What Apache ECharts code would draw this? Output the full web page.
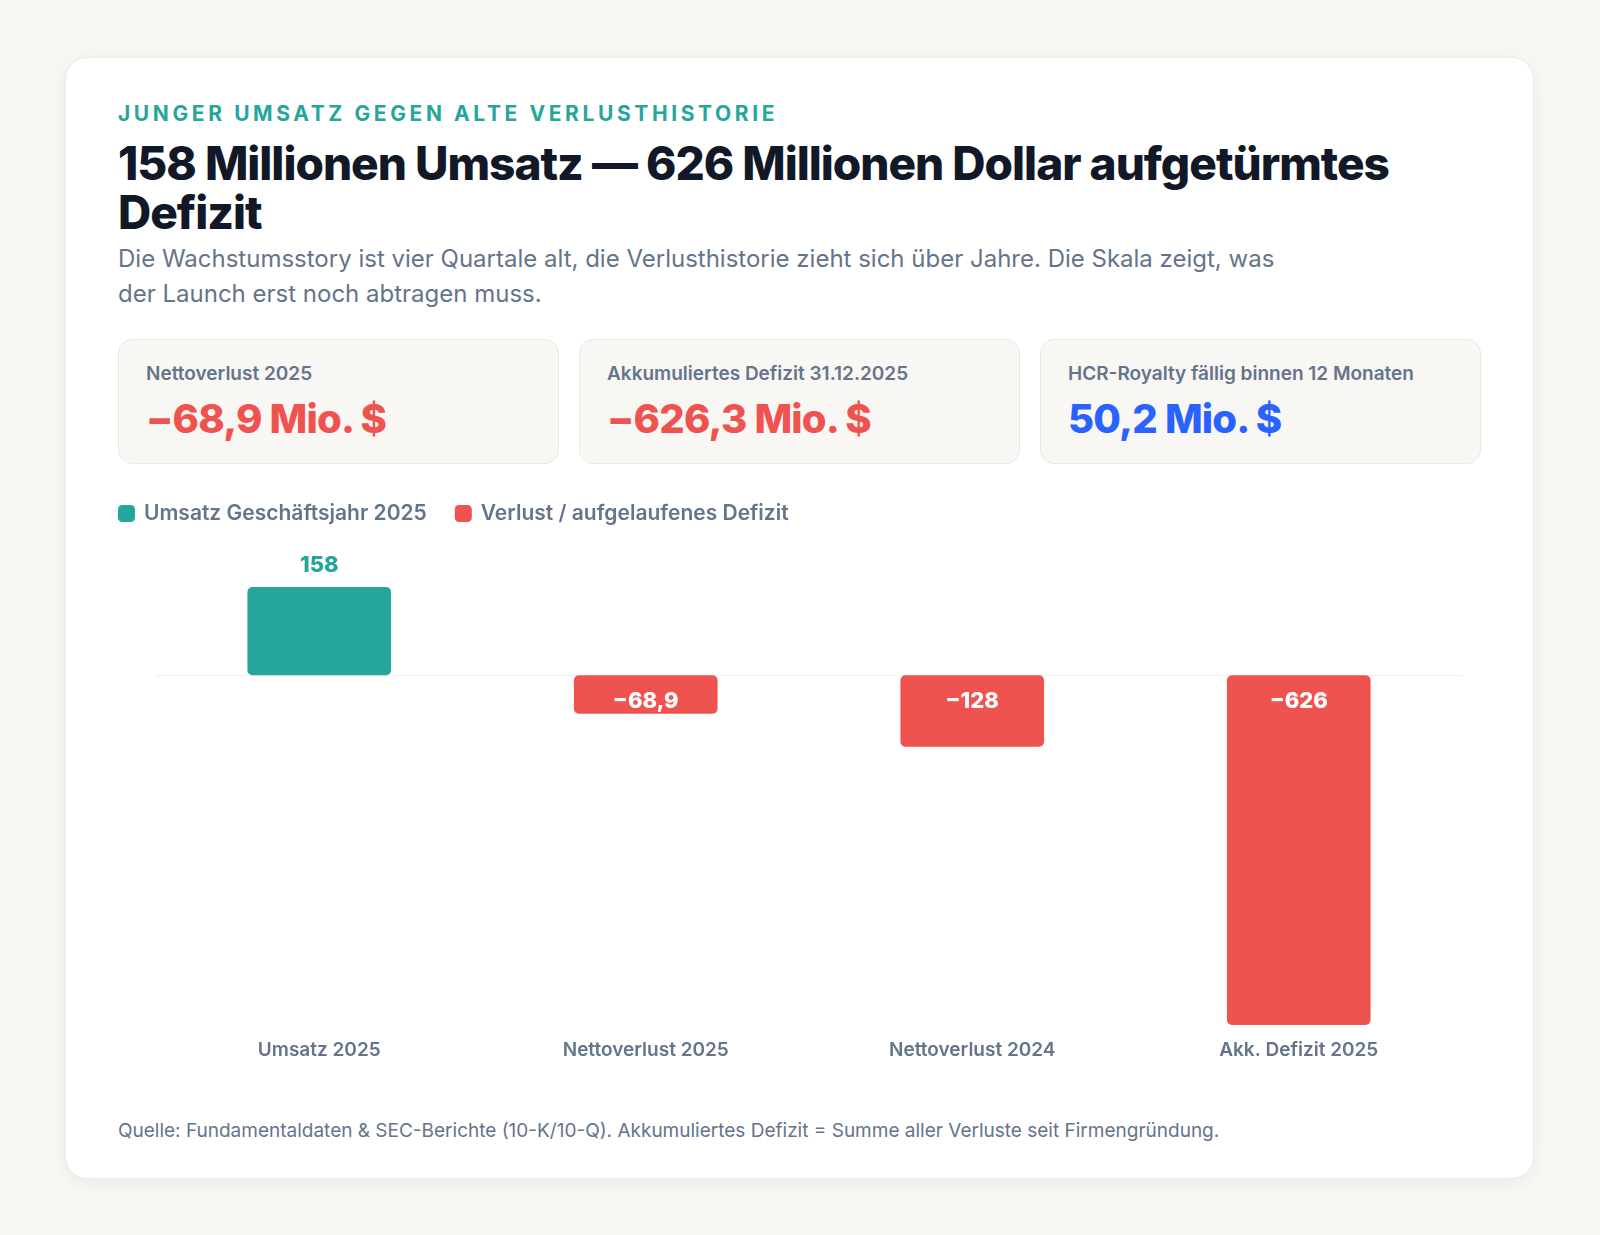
<!DOCTYPE html>
<html lang="de">
<head>
<meta charset="utf-8">
<title>Umsatz gegen Defizit</title>
<script src="https://cdn.jsdelivr.net/npm/echarts@6/dist/echarts.min.js"></script>
<style>
  html, body { margin: 0; padding: 0; }
  body {
    width: 1600px; height: 1235px;
    background: #f8f7f4;
    font-family: "Inter", "Noto Sans", sans-serif;
    position: relative;
  }
  .card {
    position: absolute; left: 65px; top: 57px;
    width: 1469px; height: 1122px;
    box-sizing: border-box;
    padding: 0 52px;
    background: #fff;
    border: 1px solid #eceae5;
    border-radius: 22px;
    box-shadow: 0 4px 18px rgba(30, 30, 20, 0.06);
  }
  .kicker {
    padding-top: 44px;
    font-size: 21px; line-height: 24px;
    font-weight: 700; letter-spacing: 3.6px;
    color: #26a69a;
  }
  h1 {
    margin: 13px 0 0;
    font-size: 46px; line-height: 49px;
    font-weight: 800; letter-spacing: -1px;
    color: #111827;
  }
  .sub {
    margin-top: 4px; max-width: 1185px;
    font-size: 24px; line-height: 35px;
    color: #64748b;
  }
  .kpis { display: flex; gap: 20px; margin-top: 28px; }
  .kpi {
    flex: 1; height: 125px; box-sizing: border-box;
    padding: 22px 27px 0;
    background: #f8f7f4;
    border: 1px solid #ebe9e4;
    border-radius: 14px;
  }
  .kpi .lab { font-size: 19px; line-height: 24px; font-weight: 600; color: #64748b; }
  .kpi .val { margin-top: 11px; font-size: 40px; line-height: 44px; font-weight: 800; letter-spacing: -0.8px; }
  #chart { width: 1365px; height: 620px; margin-top: 2px; }
  .foot { margin-top: 33px; font-size: 19px; line-height: 24px; color: #64748b; }
</style>
</head>
<body>
<div class="card">
  <div class="kicker">JUNGER UMSATZ GEGEN ALTE VERLUSTHISTORIE</div>
  <h1>158 Millionen Umsatz — 626 Millionen Dollar aufgetürmtes Defizit</h1>
  <div class="sub">Die Wachstumsstory ist vier Quartale alt, die Verlusthistorie zieht sich über Jahre. Die Skala zeigt, was der Launch erst noch abtragen muss.</div>
  <div class="kpis" id="kpis"></div>
  <div id="chart"></div>
  <div class="foot">Quelle: Fundamentaldaten &amp; SEC-Berichte (10-K/10-Q). Akkumuliertes Defizit = Summe aller Verluste seit Firmengründung.</div>
</div>
<script>
// Werte in Mio. $
var categories = ['Umsatz 2025', 'Nettoverlust 2025', 'Nettoverlust 2024', 'Akk. Defizit 2025'];
var revenueValues = [158, '-', '-', '-'];
var lossValues = ['-', -68.9, -128, -626.3];

var kpiLabels = ['Nettoverlust 2025', 'Akkumuliertes Defizit 31.12.2025', 'HCR-Royalty fällig binnen 12 Monaten'];
var kpiValues = ['−68,9 Mio. $', '−626,3 Mio. $', '50,2 Mio. $'];
var kpiColors = ['#ef5350', '#ef5350', '#2962ff'];

var teal = '#26a69a';
var red = '#ef5350';
var gray = '#64748b';

var kpiBox = document.getElementById('kpis');
kpiLabels.forEach(function (l, i) {
  var d = document.createElement('div');
  d.className = 'kpi';
  d.innerHTML = '<div class="lab">' + l + '</div><div class="val" style="color:' + kpiColors[i] + '">' + kpiValues[i] + '</div>';
  kpiBox.appendChild(d);
});

function fmt(v) {
  var a = Math.abs(v);
  var s = a >= 100 ? String(Math.round(a)) : a.toFixed(1).replace('.', ',');
  return (v < 0 ? '−' : '') + s;
}

var chart = echarts.init(document.getElementById('chart'));
chart.setOption({
  animation: false,
  textStyle: { fontFamily: 'Inter' },
  legend: {
    left: 0, top: 37, padding: 0,
    itemWidth: 17, itemHeight: 17, itemGap: 28,
    icon: 'roundRect',
    textStyle: { fontSize: 21, fontWeight: 600, color: gray, padding: [0, 0, 0, 4] },
    data: ['Umsatz Geschäftsjahr 2025', 'Verlust / aufgelaufenes Defizit']
  },
  grid: { left: 38, right: 21, top: 121, bottom: 61 },
  xAxis: {
    type: 'category',
    data: categories,
    axisLine: { show: false, onZero: false },
    axisTick: { show: false },
    axisLabel: { margin: 16, fontSize: 19, fontWeight: 600, color: gray }
  },
  yAxis: {
    type: 'value',
    min: -626.3, max: 158,
    show: false,
    splitLine: { show: false }
  },
  series: [{
    name: 'Umsatz Geschäftsjahr 2025',
    type: 'bar',
    stack: 'all',
    barWidth: '44%',
    data: revenueValues,
    itemStyle: { color: teal, borderRadius: 5 },
    label: {
      show: true, position: 'top', distance: 11,
      fontSize: 22, fontWeight: 800, color: teal,
      formatter: function (p) { return fmt(p.value); }
    }
  }, {
    name: 'Verlust / aufgelaufenes Defizit',
    type: 'bar',
    stack: 'all',
    barWidth: '44%',
    data: lossValues,
    itemStyle: { color: red, borderRadius: 5 },
    label: {
      show: true, position: 'insideTop', distance: 15,
      fontSize: 22, fontWeight: 800, color: '#fff',
      formatter: function (p) { return fmt(p.value); }
    },
    markLine: {
      silent: true, symbol: 'none', z: 1,
      label: { show: false },
      lineStyle: { color: '#f1f0ec', width: 1, type: 'solid' },
      data: [{ yAxis: 0 }]
    }
  }]
});
</script>
</body>
</html>
